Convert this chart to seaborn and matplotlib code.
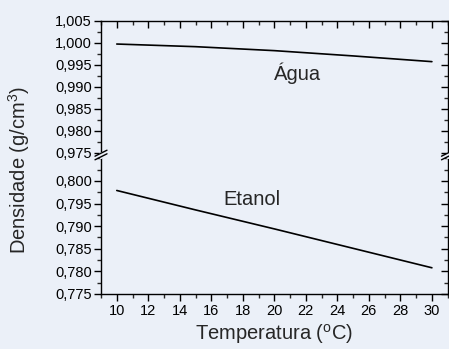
import numpy as np
import pandas as pd
import matplotlib
matplotlib.use("Agg")
import matplotlib.pyplot as plt
import seaborn as sns
from matplotlib.ticker import MultipleLocator, FixedLocator, FuncFormatter
from matplotlib.lines import Line2D

temperature = [10, 15, 20, 25, 30]
agua = [0.9997, 0.9991, 0.9982, 0.9970, 0.9957]
etanol = [0.7979, 0.7936, 0.7894, 0.7851, 0.7808]
hi_ticks = [0.975, 0.980, 0.985, 0.990, 0.995, 1.000, 1.005]
lo_ticks = [0.775, 0.780, 0.785, 0.790, 0.795, 0.800]

sns.set_theme(style="ticks")
plt.rcParams['font.family'] = ['Liberation Sans', 'DejaVu Sans']
plt.rcParams['mathtext.fontset'] = 'custom'
plt.rcParams['mathtext.rm'] = 'Liberation Sans'
plt.rcParams['mathtext.it'] = 'Liberation Sans'

bg = '#EBF0F8'
fig = plt.figure(figsize=(4.49, 3.49), dpi=100, facecolor=bg)
left, width = 0.225, 0.772
brk = 0.5559
ax_lo = fig.add_axes([left, 0.1576, width, brk - 0.1576])
ax_hi = fig.add_axes([left, brk, width, 0.9407 - brk])

df_w = pd.DataFrame({'T': temperature, 'd': agua})
df_e = pd.DataFrame({'T': temperature, 'd': etanol})
sns.lineplot(data=df_w, x='T', y='d', ax=ax_hi, color='black', lw=1.2)
sns.lineplot(data=df_e, x='T', y='d', ax=ax_lo, color='black', lw=1.2)

fmt = FuncFormatter(lambda v, p: f"{v:.3f}".replace('.', ','))
for ax, tk in ((ax_hi, hi_ticks), (ax_lo, lo_ticks)):
    ax.set_facecolor(bg)
    ax.set_xlim(9, 31)
    ax.set_xlabel('')
    ax.set_ylabel('')
    ax.yaxis.set_major_locator(FixedLocator(tk))
    ax.yaxis.set_minor_locator(MultipleLocator(0.0025))
    ax.xaxis.set_major_locator(MultipleLocator(2))
    ax.xaxis.set_minor_locator(MultipleLocator(1))
    ax.yaxis.set_major_formatter(fmt)
    for s in ax.spines.values():
        s.set_linewidth(1.0)
        s.set_color('black')
    ax.tick_params(axis='y', which='major', direction='out', length=5, width=1, labelsize=10.5, pad=1.5, colors='black')
    ax.tick_params(axis='y', which='minor', direction='out', length=3, width=1)
    ax.tick_params(axis='x', which='major', direction='out', length=5, width=1, labelsize=10.5, pad=2, colors='black')
    ax.tick_params(axis='x', which='minor', direction='out', length=3, width=1)

ax_hi.set_ylim(0.9745, 1.005)
ax_lo.set_ylim(0.775, 0.80575)
ax_hi.spines['bottom'].set_visible(False)
ax_lo.spines['top'].set_visible(False)
ax_hi.tick_params(axis='x', which='both', bottom=False, labelbottom=False, top=True, direction='in')
ax_hi.tick_params(axis='y', which='both', right=True, labelright=False)
ax_lo.tick_params(axis='y', which='both', right=True, labelright=False)
for ax in (ax_hi, ax_lo):
    for t in ax.yaxis.get_major_ticks() + ax.yaxis.get_minor_ticks():
        t.tick2line.set_marker(matplotlib.markers.TICKLEFT)

ax_hi.text(21.5, 0.9931, 'Água', fontsize=14.5, ha='center', va='center')
ax_lo.text(18.6, 0.7960, 'Etanol', fontsize=14.5, ha='center', va='center')

ax_lo.set_xlabel(r'Temperatura ($^{\rm o}$C)', fontsize=14.5, labelpad=3)
fig.text(0.042, 0.513, r'Densidade (g/cm$^{3}$)', rotation=90, fontsize=14.5, ha='center', va='center')

# break marks
W, H = 449, 349
def px(x, y):
    return x / W, 1 - y / H
for xc in (101, 447.5):
    yc = 155
    fig.add_artist(Line2D([px(xc, yc - 1.5)[0]] * 2, [px(xc, yc - 1.5)[1], px(xc, yc + 1.5)[1]],
                          color=bg, lw=3, transform=fig.transFigure))
    for dy in (-1.8, 1.8):
        x0, y0 = px(xc - 6, yc + 3 + dy)
        x1, y1 = px(xc + 6, yc - 3 + dy)
        fig.add_artist(Line2D([x0, x1], [y0, y1], color='black', lw=1.0, transform=fig.transFigure))

fig.savefig('out.png', dpi=100, facecolor=bg)
